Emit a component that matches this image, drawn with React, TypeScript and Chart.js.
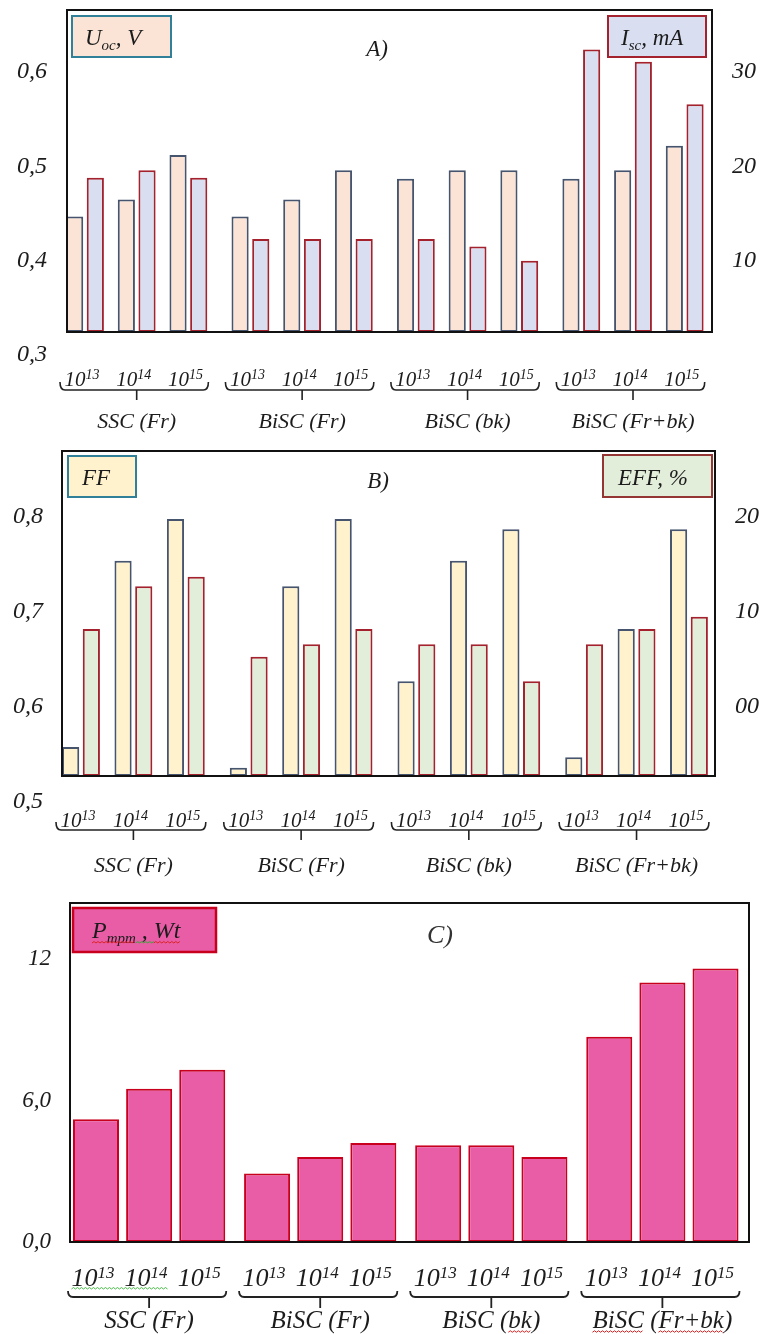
import React, { useEffect, useRef } from "react";
import { Chart, registerables } from "chart.js";

Chart.register(...registerables);

// ---------------- data ----------------
const doseBase = "10";
const doseExponents = ["13", "14", "15"];
const groupNames = ["SSC (Fr)", "BiSC (Fr)", "BiSC (bk)", "BiSC (Fr+bk)"];

// panel A
const uocV = [0.447, 0.465, 0.512, 0.447, 0.465, 0.496, 0.487, 0.496, 0.496, 0.487, 0.496, 0.522];
const iscMA = [18.8, 19.6, 18.8, 12.3, 12.3, 12.3, 12.3, 11.5, 10.0, 32.4, 31.1, 26.6];
// panel B
const ffValues = [0.558, 0.754, 0.798, 0.536, 0.727, 0.798, 0.627, 0.754, 0.787, 0.547, 0.682, 0.787];
const effPct = [8.2, 12.7, 13.7, 5.3, 6.6, 8.2, 6.6, 6.6, 2.7, 6.6, 8.2, 9.5];
// panel C
const pmpmWt = [5.2, 6.5, 7.3, 2.9, 3.6, 4.2, 4.1, 4.1, 3.6, 8.7, 11.0, 11.6];

const uocTicks = [0.3, 0.4, 0.5, 0.6];
const iscTicks = [10, 20, 30];
const ffTicks = [0.5, 0.6, 0.7, 0.8];
const effTicks = [0, 10, 20];
const pmpmTicks = [0, 6, 12];

// ---------------- styling helpers ----------------
const FONT = '"Liberation Serif", "Times New Roman", serif';
const INK = "#1c1c1c";

const fmtComma = (v: number) => v.toFixed(1).replace(".", ",");
const fmtPlain = (v: number) => String(v);
const fmtEff = (v: number) => (v === 0 ? "00" : String(v));
const fmtPmpm = (v: number) => (v >= 10 ? String(v) : v.toFixed(1).replace(".", ","));

type Part = { t: string; sub?: boolean; sup?: boolean };

interface AxisDef {
  min: number;
  max: number;
  ticks: number[];
  fmt: (v: number) => string;
  width: number;
  pad: number;
}
interface LegendDef {
  x: number; y: number; w: number; h: number;
  fill: string; stroke: string; lw: number;
  tx: number; ty: number; size: number; small: number;
  parts: Part[];
  waves?: [number, number, string][];
}
interface SeriesDef { values: number[]; axis: string; fill: string; stroke: string; base: number }
interface PanelDef {
  top: number; height: number;
  pad: { top: number; bottom: number; right: number };
  step: number; xMin: number; xMax: number;
  yL: AxisDef; yR?: AxisDef;
  frameBase: number;
  tickSize: number;
  series: SeriesDef[];
  catPct: number; barPct: number;
  title: { text: string; x: number; y: number; size: number; color: string };
  legends: LegendDef[];
  dose: { size: number; small: number; rise: number; y: number; dx: number; waves?: [number, number, string][] };
  brace: { y: number; hook: number; tick: number; l: number; r: number; lw: number };
  group: { y: number; size: number; waves?: [number, string, string][] };
}

function fontOf(size: number) {
  return `italic ${size}px ${FONT}`;
}

function drawParts(
  ctx: CanvasRenderingContext2D, parts: Part[], x: number, y: number,
  size: number, small: number, align: "left" | "center", drop: number, rise: number, color: string
): number[] {
  let w = 0;
  for (const p of parts) {
    ctx.font = fontOf(p.sub || p.sup ? small : size);
    w += ctx.measureText(p.t).width;
  }
  let cx = align === "center" ? x - w / 2 : x;
  ctx.fillStyle = color;
  ctx.textAlign = "left";
  ctx.textBaseline = "alphabetic";
  const bounds: number[] = [];
  for (const p of parts) {
    ctx.font = fontOf(p.sub || p.sup ? small : size);
    const dy = p.sub ? drop : p.sup ? -rise : 0;
    bounds.push(cx);
    ctx.fillText(p.t, cx, y + dy);
    cx += ctx.measureText(p.t).width;
  }
  bounds.push(cx);
  return bounds;
}

function wavy(ctx: CanvasRenderingContext2D, x0: number, x1: number, y: number, color: string) {
  ctx.save();
  ctx.strokeStyle = color;
  ctx.lineWidth = 1;
  ctx.beginPath();
  ctx.moveTo(x0, y);
  let up = true;
  for (let x = x0 + 2; x <= x1; x += 2) {
    ctx.lineTo(x, up ? y - 1.5 : y);
    up = !up;
  }
  ctx.stroke();
  ctx.restore();
}

function makeDecor(p: PanelDef, pos: (k: number) => number) {
  return {
    id: "decor",
    afterDatasetsDraw(chart: any) {
      const ctx: CanvasRenderingContext2D = chart.ctx;
      const xs = chart.scales.x;
      const yl = chart.scales.yL;
      const area = chart.chartArea;
      const baseY = yl.getPixelForValue(p.frameBase);
      ctx.save();

      // frame
      ctx.strokeStyle = "#111";
      ctx.lineWidth = 2;
      ctx.beginPath();
      ctx.moveTo(area.left, baseY);
      ctx.lineTo(area.left, area.top);
      ctx.lineTo(area.right, area.top);
      ctx.lineTo(area.right, baseY);
      ctx.moveTo(area.left - 1, baseY);
      ctx.lineTo(area.right + 1, baseY);
      ctx.stroke();

      // title
      ctx.font = fontOf(p.title.size);
      ctx.fillStyle = p.title.color;
      ctx.textAlign = "center";
      ctx.textBaseline = "alphabetic";
      ctx.fillText(p.title.text, p.title.x, p.title.y);

      // legend boxes
      for (const lg of p.legends) {
        ctx.fillStyle = lg.fill;
        ctx.fillRect(lg.x, lg.y, lg.w, lg.h);
        ctx.strokeStyle = lg.stroke;
        ctx.lineWidth = lg.lw;
        ctx.strokeRect(lg.x, lg.y, lg.w, lg.h);
        const b = drawParts(ctx, lg.parts, lg.tx, lg.ty, lg.size, lg.small, "left", lg.size * 0.2, 0, INK);
        if (lg.waves) for (const [i0, i1, c] of lg.waves) wavy(ctx, b[i0], b[i1], lg.ty + 5, c);
      }

      // dose labels
      const n = groupNames.length * doseExponents.length;
      const labelBounds: number[][] = [];
      for (let k = 0; k < n; k++) {
        const x = xs.getPixelForValue(pos(k)) + p.dose.dx;
        const b = drawParts(
          ctx,
          [{ t: doseBase }, { t: doseExponents[k % doseExponents.length], sup: true }],
          x, p.dose.y, p.dose.size, p.dose.small, "center", 0, p.dose.rise, INK
        );
        labelBounds.push(b);
      }
      if (p.dose.waves) {
        for (const [k0, k1, c] of p.dose.waves) {
          wavy(ctx, labelBounds[k0][0], labelBounds[k1][labelBounds[k1].length - 1], p.dose.y + 3, c);
        }
      }

      // braces + group names
      const per = doseExponents.length;
      for (let g = 0; g < groupNames.length; g++) {
        const xFirst = xs.getPixelForValue(pos(g * per));
        const xLast = xs.getPixelForValue(pos(g * per + per - 1));
        const xMid = xs.getPixelForValue(pos(g * per + Math.floor(per / 2)));
        const x0 = xFirst + p.brace.l;
        const x1 = xLast + p.brace.r;
        const y = p.brace.y;
        const hk = p.brace.hook;
        ctx.strokeStyle = "#222";
        ctx.lineWidth = p.brace.lw;
        ctx.beginPath();
        ctx.moveTo(x0, y - hk);
        ctx.quadraticCurveTo(x0, y, x0 + 5, y);
        ctx.lineTo(x1 - 5, y);
        ctx.quadraticCurveTo(x1, y, x1, y - hk);
        ctx.moveTo(xMid, y);
        ctx.lineTo(xMid, y + p.brace.tick);
        ctx.stroke();

        const name = groupNames[g];
        ctx.font = fontOf(p.group.size);
        ctx.fillStyle = INK;
        ctx.textAlign = "center";
        ctx.textBaseline = "middle";
        ctx.fillText(name, xMid, p.group.y);
        if (p.group.waves) {
          const full = ctx.measureText(name).width;
          for (const [gi, word, c] of p.group.waves) {
            if (gi !== g) continue;
            const idx = name.indexOf(word);
            if (idx < 0) continue;
            const sx = xMid - full / 2 + ctx.measureText(name.slice(0, idx)).width;
            const ex = sx + ctx.measureText(word).width;
            wavy(ctx, sx, ex, p.group.y + p.group.size * 0.45, c);
          }
        }
      }
      ctx.restore();
    },
  };
}

function buildChart(canvas: HTMLCanvasElement, p: PanelDef) {
  const pos = (k: number) => Math.floor(k / doseExponents.length) * p.step + (k % doseExponents.length);
  const n = groupNames.length * doseExponents.length;
  const positions = Array.from({ length: n }, (_, k) => pos(k));
  const tickFont = { family: FONT, size: p.tickSize, style: "italic" as const };

  const yAxis = (a: AxisDef, position: "left" | "right") => ({
    type: "linear",
    position,
    min: a.min,
    max: a.max,
    grid: { display: false, drawTicks: false },
    border: { display: false },
    ticks: {
      padding: a.pad,
      font: tickFont,
      color: INK,
      callback: (v: any) => a.fmt(Number(v)),
    },
    afterBuildTicks: (s: any) => {
      s.ticks = a.ticks.map((v) => ({ value: v }));
    },
    afterFit: (s: any) => {
      s.width = a.width;
      s.paddingTop = 0;
      s.paddingBottom = 0;
    },
  });

  const scales: any = {
    x: {
      type: "linear",
      display: false,
      offset: false,
      min: p.xMin,
      max: p.xMax,
      afterBuildTicks: (s: any) => {
        s.ticks = positions.map((v) => ({ value: v }));
      },
    },
    yL: yAxis(p.yL, "left"),
  };
  if (p.yR) scales.yR = yAxis(p.yR, "right");

  const datasets = p.series.map((s) => ({
    type: "bar",
    data: s.values.map((v, k) => ({ x: pos(k), y: v })),
    yAxisID: s.axis,
    backgroundColor: s.fill,
    borderColor: s.stroke,
    borderWidth: 2,
    borderSkipped: false,
    base: s.base,
    categoryPercentage: p.catPct,
    barPercentage: p.barPct,
  }));

  return new Chart(canvas, {
    type: "bar",
    data: { datasets } as any,
    options: {
      responsive: false,
      animation: false,
      devicePixelRatio: 1,
      events: [],
      layout: { padding: { top: p.pad.top, bottom: p.pad.bottom, left: 0, right: p.pad.right } },
      plugins: { legend: { display: false }, tooltip: { enabled: false } },
      scales,
    } as any,
    plugins: [makeDecor(p, pos) as any],
  });
}

// ---------------- panels ----------------
const panelA: PanelDef = {
  top: 0,
  height: 440,
  pad: { top: 10, bottom: 85, right: 0 },
  step: 3.2,
  xMin: -0.348,
  xMax: 12.128,
  yL: { min: 0.3, max: 0.6659, ticks: uocTicks, fmt: fmtComma, width: 67, pad: 20 },
  yR: { min: 0, max: 36.59, ticks: iscTicks, fmt: fmtPlain, width: 48, pad: 20 },
  frameBase: 0.3244,
  tickSize: 24,
  series: [
    { values: uocV, axis: "yL", fill: "#FBE4D5", stroke: "#46546E", base: 0.3244 },
    { values: iscMA, axis: "yR", fill: "#D9DFF1", stroke: "#A3222D", base: 2.44 },
  ],
  catPct: 0.8,
  barPct: 0.83,
  title: { text: "A)", x: 377, y: 56, size: 23, color: INK },
  legends: [
    {
      x: 72, y: 16, w: 99, h: 41, fill: "#FBE4D5", stroke: "#31809A", lw: 2,
      tx: 85, ty: 45, size: 23, small: 15,
      parts: [{ t: "U" }, { t: "oc", sub: true }, { t: ", V" }],
    },
    {
      x: 608, y: 16, w: 98, h: 41, fill: "#D9DFF1", stroke: "#A3222D", lw: 2,
      tx: 621, ty: 45, size: 23, small: 15,
      parts: [{ t: "I" }, { t: "sc", sub: true }, { t: ", mA" }],
    },
  ],
  dose: { size: 21, small: 14, rise: 7, y: 386, dx: -3 },
  brace: { y: 390, hook: 8, tick: 10, l: -25, r: 20, lw: 1.6 },
  group: { y: 422, size: 22 },
};

const panelB: PanelDef = {
  top: 440,
  height: 440,
  pad: { top: 11, bottom: 78, right: 0 },
  step: 3.2,
  xMin: -0.3625,
  xMax: 12.097,
  yL: { min: 0.5, max: 0.8695, ticks: ffTicks, fmt: fmtComma, width: 62, pad: 19 },
  yR: { min: -10, max: 26.95, ticks: effTicks, fmt: fmtEff, width: 45, pad: 20 },
  frameBase: 0.5274,
  tickSize: 24,
  series: [
    { values: ffValues, axis: "yL", fill: "#FFF2CC", stroke: "#46546E", base: 0.5274 },
    { values: effPct, axis: "yR", fill: "#E2EEDA", stroke: "#A3222D", base: -7.26 },
  ],
  catPct: 0.79,
  barPct: 0.83,
  title: { text: "B)", x: 378, y: 48, size: 23, color: INK },
  legends: [
    {
      x: 68, y: 16, w: 68, h: 41, fill: "#FFF2CC", stroke: "#31809A", lw: 2,
      tx: 82, ty: 45, size: 23, small: 15,
      parts: [{ t: "FF" }],
    },
    {
      x: 603, y: 15, w: 109, h: 42, fill: "#E2EEDA", stroke: "#943634", lw: 2,
      tx: 618, ty: 45, size: 23, small: 15,
      parts: [{ t: "EFF, %" }],
    },
  ],
  dose: { size: 21, small: 14, rise: 7, y: 387, dx: -3 },
  brace: { y: 390, hook: 8, tick: 10, l: -25, r: 20, lw: 1.6 },
  group: { y: 426, size: 22 },
};

const panelC: PanelDef = {
  top: 880,
  height: 454,
  pad: { top: 23, bottom: 92, right: 11 },
  step: 3.22,
  xMin: -0.489,
  xMax: 12.29,
  yL: { min: 0, max: 14.375, ticks: pmpmTicks, fmt: fmtPmpm, width: 70, pad: 19 },
  frameBase: 0,
  tickSize: 23,
  series: [{ values: pmpmWt, axis: "yL", fill: "#E85DA6", stroke: "#C8001E", base: 0 }],
  catPct: 1,
  barPct: 0.866,
  title: { text: "C)", x: 440, y: 63, size: 26, color: "#333" },
  legends: [
    {
      x: 73, y: 28, w: 143, h: 44, fill: "#E85DA6", stroke: "#C8001E", lw: 2.5,
      tx: 92, ty: 58, size: 24, small: 15,
      parts: [{ t: "P" }, { t: "mpm", sub: true }, { t: " , " }, { t: "Wt" }],
      waves: [[0, 2, "#d22"], [2, 3, "#3a3"], [3, 4, "#d22"]],
    },
  ],
  dose: { size: 26, small: 17, rise: 8, y: 406, dx: -3, waves: [[0, 1, "#4b4"]] },
  brace: { y: 417, hook: 6, tick: 11, l: -28, r: 24, lw: 1.8 },
  group: {
    y: 441,
    size: 25,
    waves: [[2, "bk", "#d22"], [3, "BiSC", "#d22"], [3, "Fr+bk", "#d22"]],
  },
};

function PanelChart({ panel }: { panel: PanelDef }) {
  const ref = useRef<HTMLCanvasElement | null>(null);
  useEffect(() => {
    if (!ref.current) return;
    const chart = buildChart(ref.current, panel);
    return () => chart.destroy();
  }, [panel]);
  return (
    <canvas
      ref={ref}
      width={760}
      height={panel.height}
      style={{ position: "absolute", left: 0, top: panel.top, width: 760, height: panel.height }}
    />
  );
}

export default function App() {
  return (
    <div style={{ position: "absolute", left: 0, top: 0, width: 760, height: 1334, background: "#fff" }}>
      <PanelChart panel={panelA} />
      <PanelChart panel={panelB} />
      <PanelChart panel={panelC} />
    </div>
  );
}
